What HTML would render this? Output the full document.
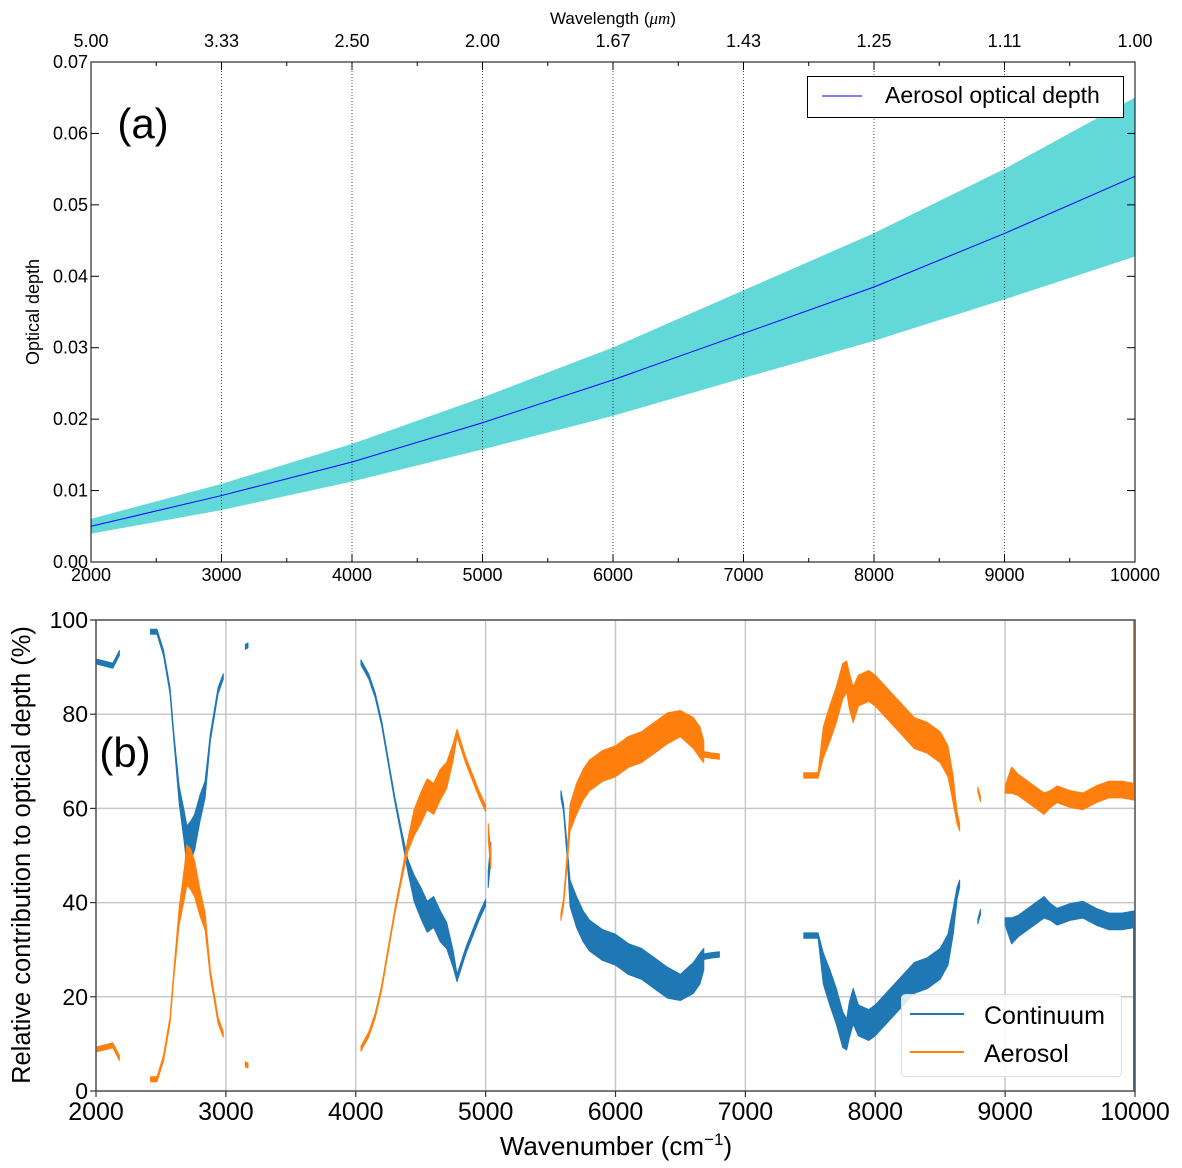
<!DOCTYPE html>
<html><head><meta charset="utf-8"><style>
html,body{margin:0;padding:0;background:#fff}
svg{display:block}
text{font-family:"Liberation Sans","DejaVu Sans",sans-serif}
</style></head><body>
<svg id="s" width="1182" height="1168" viewBox="0 0 1182 1168" xmlns="http://www.w3.org/2000/svg"></svg>
<script>
// Panel (a) data
const aWavenumbers=[2000,3000,4000,5000,6000,7000,8000,9000,10000];
const aMean=[0.005,0.0093,0.014,0.0195,0.0255,0.032,0.0385,0.046,0.054];
const aUpper=[0.006,0.0109,0.0165,0.023,0.030,0.038,0.046,0.055,0.065];
const aLower=[0.004,0.0073,0.0113,0.0158,0.0205,0.0258,0.031,0.0368,0.0428];
const aYTicks=[0,0.01,0.02,0.03,0.04,0.05,0.06,0.07];
const aTopLabels=["5.00","3.33","2.50","2.00","1.67","1.43","1.25","1.11","1.00"];
// Panel (b) data: continuum segments [wavenumber], [mid %], [spread %]
const bSegWn=[
[2000,2100,2130,2180],
[2420,2470,2520,2570,2600,2640,2680,2700,2730,2760,2800,2840,2880,2940,2980],
[3150,3170],
[4040,4100,4150,4200,4250,4300,4350,4400,4450,4500,4550,4600,4650,4700,4750,4780],
[4780,4850,4950,5000],
[5020,5040],
[5580,5600,5630,5650,5700,5750,5800,5900,6000,6100,6200,6300,6400,6500,6600,6650,6680],
[6680,6740,6800],
[7450,7560,7600,7650,7700,7750,7780,7800,7830,7870,7950,8000,8100,8200,8300,8400,8500,8560,8600,8630,8650],
[8790,8810],
[9000,9050,9100,9200,9300,9350,9400,9500,9600,9700,9800,9900,10000]];
const bSegCont=[
[91.2,90.5,90.3,93],
[97.5,97.5,93,85,75,63,56,52,53,55,60,64,75,85,88],
[94.3,94.6],
[91,88,84,78,70,62,55,48,43,40,37,38,35,33,28,24],
[24,30,37,40],
[45,51],
[63,60,50,42,38,35,33,31,30,28,27,25,23,22,24,26,28],
[28.5,28.8,29],
[33,33,26,22,18,13,12,15,18,15,14,15,18,21,24,25,27,30,36,42,44],
[36,38],
[36,34,35,37,39,38,37,38,38.5,37,36,36,36.5]];
const bSegSpread=[
[0.5,0.5,0.5,0.5],
[0.5,0.5,0.6,0.8,1,3,6,8,8,7,5,3,1,0.8,0.6],
[0.5,0.5],
[0.5,0.5,0.5,0.5,0.5,0.5,0.8,2,5,6,6,6,6,5,3,1],
[1,0.8,0.8,0.8],
[3,3],
[1,1,2,5,6,6,6,6,6,6,6,6,6,5,6,6,4],
[0.6,0.6,0.6],
[0.6,0.6,6,7,7,7,6,7,7,6,6,6,6,6,6,6,6,6,5,2,1],
[0.5,0.5],
[1,5,4,4,4,3,3,3,3,3,3,3,3]];
const bXTicks=[2000,3000,4000,5000,6000,7000,8000,9000,10000];
const bYTicks=[0,20,40,60,80,100];

const svg=document.getElementById('s');
const NS="http://www.w3.org/2000/svg";
function mk(tag,attrs,parent){const e=document.createElementNS(NS,tag);for(const k in attrs)e.setAttribute(k,attrs[k]);(parent||svg).appendChild(e);return e;}
function txt(str,x,y,size,anchor,parent){const t=mk('text',{x:x,y:y,'font-size':size,'text-anchor':anchor||'middle',fill:'#000'},parent);t.textContent=str;return t;}

// ---------- Panel A ----------
const ax=v=>91+(v-2000)/8000*(1135-91);
const ay=v=>562-v/0.07*(562-62);
const gA=mk('g',{});


let pts=aWavenumbers.map((w,i)=>ax(w)+','+ay(aUpper[i]));
pts=pts.concat(aWavenumbers.map((w,i)=>ax(w)+','+ay(aLower[i])).reverse());
const band=mk('polygon',{points:pts.join(' '),fill:'#63d8d8',stroke:'#63d8d8','stroke-width':0.5},gA);


aWavenumbers.slice(1,-1).forEach(w=>{
  const l=mk('line',{x1:ax(w),x2:ax(w),y1:62,y2:562,stroke:'#000','stroke-width':0.7,'stroke-dasharray':'1,2'},gA);
  
  
});
let d='';
for(let i=0;i<aWavenumbers.length;i++){d+=(i?'L':'M')+ax(aWavenumbers[i])+','+ay(aMean[i]);}
const ml=mk('path',{d:d,fill:'none',stroke:'#0000ff','stroke-width':1},gA);


const fa=mk('rect',{x:91,y:62,width:1044,height:500,fill:'none',stroke:'#000','stroke-width':1},gA);


for(let w=2000;w<=10000;w+=500){
  const len=(w%1000===0)?8:4;
  mk('line',{x1:ax(w),x2:ax(w),y1:562,y2:562-len,stroke:'#000'},gA);
  mk('line',{x1:ax(w),x2:ax(w),y1:62,y2:62+len,stroke:'#000'},gA);
}
aWavenumbers.forEach((w,i)=>{
  const t=txt(String(w),ax(w),581,18,'middle',gA);
  
  
  const t2=txt(aTopLabels[i],ax(w),47,18,'middle',gA);
  
  
});
aYTicks.forEach(v=>{
  mk('line',{x1:91,x2:99,y1:ay(v),y2:ay(v),stroke:'#000'},gA);
  mk('line',{x1:1135,x2:1127,y1:ay(v),y2:ay(v),stroke:'#000'},gA);
  const t=txt(v.toFixed(2),88,ay(v)+6,18,'end',gA);
  
  
});
const tt=mk('text',{x:613,y:24,'font-size':17,'text-anchor':'middle'},gA);
tt.innerHTML='Wavelength (<tspan font-style="italic" font-family="Liberation Serif">μm</tspan>)';


const yta=txt('Optical depth',39,312,18,'middle',gA);
yta.setAttribute('transform','rotate(-90 39 312)');


const la=txt('(a)',143,138,42,'middle',gA);
la.setAttribute('font-family','DejaVu Sans');


const lgA=mk('g',{},gA);


mk('rect',{x:807.5,y:76.5,width:316,height:41,fill:'#fff',stroke:'#000','stroke-width':1},lgA);
mk('line',{x1:822,x2:862,y1:96,y2:96,stroke:'#0000ff','stroke-width':1},lgA);
const le=txt('Aerosol optical depth',885,103,23,'start',lgA);



// ---------- Panel B ----------
const bx=v=>96+(v-2000)/8000*(1135-96);
const by=v=>1091-v/100*(1091-620);
const gB=mk('g',{});


bXTicks.forEach(w=>{
  const l=mk('line',{x1:bx(w),x2:bx(w),y1:620,y2:1091,stroke:'#c8c8c8','stroke-width':1.5},gB);
  
  
});
bYTicks.forEach(v=>{
  const l=mk('line',{x1:96,x2:1135,y1:by(v),y2:by(v),stroke:'#c8c8c8','stroke-width':1.5},gB);
  
  
});
function drawSeries(color,name,fn){
  const g=mk('g',{},gB);
  
  
  bSegWn.forEach((ws,si)=>{
    const mid=bSegCont[si].map(fn);
    const sp=bSegSpread[si];
    let up=ws.map((w,i)=>bx(w)+','+(by(mid[i]+sp[i]/2)-1.3));
    let lo=ws.map((w,i)=>bx(w)+','+(by(mid[i]-sp[i]/2)+1.3)).reverse();
    const p=mk('polygon',{points:up.concat(lo).join(' '),fill:color,stroke:color,'stroke-width':1,'stroke-linejoin':'round'},g);
    
    
  });
}
drawSeries('#1f77b4','continuum-series',v=>v);
drawSeries('#ff7f0e','aerosol-series',v=>100-v);
mk('line',{x1:bx(10000)-1,x2:bx(10000)-1,y1:by(100),y2:by(63),stroke:'#ff7f0e','stroke-width':2},gB);
mk('line',{x1:bx(10000)-1,x2:bx(10000)-1,y1:by(37),y2:by(0),stroke:'#1f77b4','stroke-width':2},gB);
const fb=mk('rect',{x:96,y:620,width:1039,height:471,fill:'none',stroke:'#555','stroke-width':1.5},gB);


bXTicks.forEach(w=>{
  mk('line',{x1:bx(w),x2:bx(w),y1:1091,y2:1097,stroke:'#333','stroke-width':1.2},gB);
  const t=txt(String(w),bx(w),1120,25,'middle',gB);
  
  
});
bYTicks.forEach(v=>{
  mk('line',{x1:90,x2:96,y1:by(v),y2:by(v),stroke:'#333','stroke-width':1.2},gB);
  const t=txt(String(v),88,by(v)+8,23,'end',gB);
  
  
});
const xtb=mk('text',{x:616,y:1155,'font-size':26,'text-anchor':'middle'},gB);
xtb.innerHTML='Wavenumber (cm<tspan dy="-10" font-size="17">−1</tspan><tspan dy="10">)</tspan>';


const ytb=txt('Relative contribution to optical depth (%)',30,855,25.5,'middle',gB);
ytb.setAttribute('transform','rotate(-90 30 855)');


const lb=txt('(b)',125,767,42,'middle',gB);
lb.setAttribute('font-family','DejaVu Sans');


const lgB=mk('g',{},gB);


mk('rect',{x:901.5,y:994.5,width:220,height:82,rx:4,fill:'#fff','fill-opacity':0.85,stroke:'#ddd','stroke-width':1},lgB);
mk('line',{x1:910,x2:964,y1:1014,y2:1014,stroke:'#1f77b4','stroke-width':2},lgB);
mk('line',{x1:910,x2:964,y1:1052,y2:1052,stroke:'#ff7f0e','stroke-width':2},lgB);
const l1=txt('Continuum',984,1024,25,'start',lgB);


const l2=txt('Aerosol',984,1062,25,'start',lgB);


</script>
</body></html>
